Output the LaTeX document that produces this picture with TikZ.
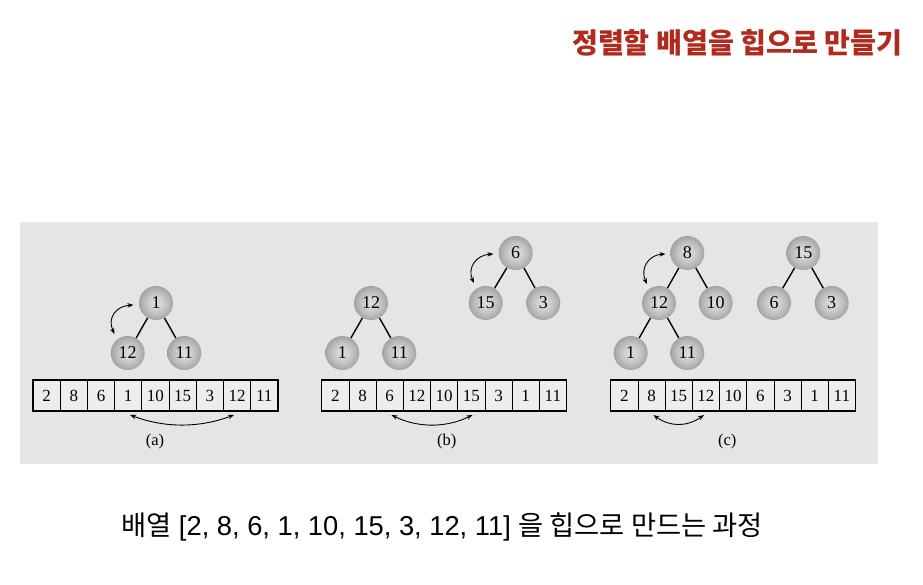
\documentclass[tikz,border=0pt]{standalone}
\usepackage{fontspec}
\setmainfont{Liberation Sans}
\newfontfamily\cjk{Noto Sans CJK KR}
\newfontfamily\tms{Liberation Serif}
\usetikzlibrary{arrows.meta}
\definecolor{titlered}{RGB}{176,42,30}
\definecolor{panelgray}{RGB}{229,229,229}
\pgfdeclareradialshading{ballgray}{\pgfpoint{0bp}{0bp}}{color(0bp)=(gray!26); color(9bp)=(gray!36); color(18bp)=(gray!54); color(25bp)=(gray!72); color(50bp)=(gray!72)}
\tikzset{
  ball/.style={circle, minimum size=34pt, inner sep=0pt, shading=ballgray, font=\tms\fontsize{18}{18}\selectfont},
  edge/.style={line width=1.4pt},
  cell/.style={draw, line width=0.7pt, minimum width=27.2pt, minimum height=31pt, inner sep=0pt, outer sep=0pt, fill=panelgray!70!white, font=\tms\fontsize{17}{17}\selectfont},
  frame/.style={draw, line width=1.5pt},
  swap/.style={{Stealth[length=6pt,width=4.5pt]}-{Stealth[length=6pt,width=4.5pt]}, line width=0.9pt},
  sub/.style={font=\tms\fontsize{16.5}{16.5}\selectfont}
}
\newcommand{\heaparray}[3]{% #1 prefix, #2 left x, #3 list
  \foreach \v [count=\i] in {#3} {
    \node[cell] (#1\i) at ({#2+27.2*(\i-0.5)},395.5) {\v};
  }
  \draw[frame] (#2,380) rectangle ({#2+27.2*9},411);
}
\begin{document}
\begin{tikzpicture}[x=1pt,y=-1pt]
\useasboundingbox (0,0) rectangle (923,585);
\fill[white] (0,0) rectangle (923,585);
\node[anchor=east, inner sep=0pt, text=titlered, font=\cjk\bfseries\fontsize{28.2}{28.2}\selectfont] (title) at (903,43) {정렬할 배열을 힙으로 만들기};
\fill[panelgray] (20,222) rectangle (878,464);
% (a)
\heaparray{a}{33}{2,8,6,1,10,15,3,12,11}
\node[ball] (a1) at (156,303) {1};
\node[ball] (a12) at (127.7,353) {12};
\node[ball] (a11) at (184.3,353) {11};
\draw[edge] (a1) -- (a12);
\draw[edge] (a1) -- (a11);
\coordinate (aT1) at (133.5,305);
\coordinate (aT2) at (114.5,334);
\draw[swap] (aT1) .. controls (116,306) and (107,318) .. (aT2);
\coordinate (aA1) at (130,415);
\coordinate (aA2) at (234,415);
\draw[swap] (aA1) .. controls (165,428) and (199,428) .. (aA2);
\node[sub] (la) at (155,442) {(a)};
% (b)
\heaparray{b}{321.7}{2,8,6,12,10,15,3,1,11}
\node[ball] (b12) at (371,303) {12};
\node[ball] (b1) at (342.3,353) {1};
\node[ball] (b11) at (399.3,353) {11};
\draw[edge] (b12) -- (b1);
\draw[edge] (b12) -- (b11);
\node[ball] (b6) at (515.7,253) {6};
\node[ball] (b15) at (485.7,303) {15};
\node[ball] (b3) at (543.3,303) {3};
\draw[edge] (b6) -- (b15);
\draw[edge] (b6) -- (b3);
\coordinate (bT1) at (493.5,254);
\coordinate (bT2) at (474,283);
\draw[swap] (bT1) .. controls (476,255) and (467,268) .. (bT2);
\coordinate (bA1) at (391.5,415);
\coordinate (bA2) at (472.5,415);
\draw[swap] (bA1) .. controls (418,428) and (446,428) .. (bA2);
\node[sub] (lb) at (446.7,442) {(b)};
% (c)
\heaparray{c}{610.7}{2,8,15,12,10,6,3,1,11}
\node[ball] (c8) at (687.3,253) {8};
\node[ball] (c12) at (659,303) {12};
\node[ball] (c10) at (715.7,303) {10};
\node[ball] (c1) at (630.7,353) {1};
\node[ball] (c11) at (687.3,353) {11};
\draw[edge] (c8) -- (c12);
\draw[edge] (c8) -- (c10);
\draw[edge] (c12) -- (c1);
\draw[edge] (c12) -- (c11);
\node[ball] (c15) at (803.3,253) {15};
\node[ball] (c6) at (774,303) {6};
\node[ball] (c3) at (831.7,303) {3};
\draw[edge] (c15) -- (c6);
\draw[edge] (c15) -- (c3);
\coordinate (cT1) at (665.5,254);
\coordinate (cT2) at (647,284);
\draw[swap] (cT1) .. controls (648,255) and (640,269) .. (cT2);
\coordinate (cA1) at (653.5,415);
\coordinate (cA2) at (704,415);
\draw[swap] (cA1) .. controls (670,427) and (687,427) .. (cA2);
\node[sub] (lc) at (727.3,442) {(c)};
% caption
\node[font=\fontsize{27.3}{27.3}\selectfont] (cap) at (442,527) {{\cjk 배열} [2, 8, 6, 1, 10, 15, 3, 12, 11] {\cjk 을 힙으로 만드는 과정}};
\end{tikzpicture}
\end{document}
